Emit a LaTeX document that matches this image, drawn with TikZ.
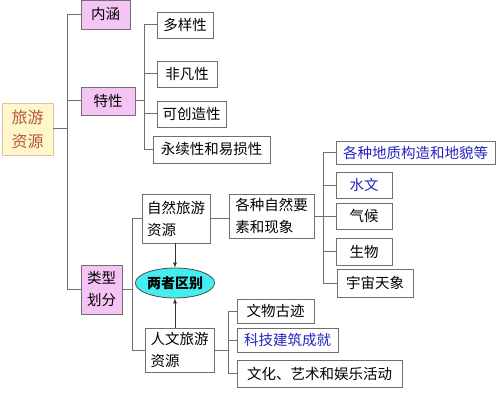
\documentclass[tikz,border=0pt]{standalone}
\usepackage{fontspec}
\setmainfont{Noto Sans CJK SC}
\usetikzlibrary{shapes.geometric,arrows.meta}
\definecolor{pinkfill}{HTML}{F4C4F4}
\definecolor{rootfill}{HTML}{FFF6CC}
\definecolor{roottext}{HTML}{B05A3C}
\definecolor{rootborder}{HTML}{D8C8A0}
\definecolor{bluetext}{HTML}{2424C0}
\definecolor{cyanfill}{HTML}{44EEF0}
\definecolor{linegray}{HTML}{707070}
\tikzset{
  bx/.style={draw=linegray, line width=0.9pt, inner sep=0pt, align=center,
    font=\fontsize{14.5}{22}\selectfont},
  two/.style={align=left},
  pk/.style={bx, fill=pinkfill},
  bl/.style={bx, text=bluetext},
  conn/.style={draw=linegray, line width=1pt},
  arr/.style={draw=black!80, line width=0.7pt, -{Latex[length=5pt,width=4pt]}},
}
\begin{document}
\begin{tikzpicture}[x=1pt,y=-1pt]
\useasboundingbox (0,0) rectangle (500,406);
% root
\node[bx, two, draw=rootborder, fill=rootfill, text=roottext, minimum width=51pt, minimum height=52pt,
  font=\fontsize{16}{24}\selectfont] (root) at (27.5,129) {旅游\\资源};
% level 1
\node[pk, minimum width=49pt, minimum height=29pt] (nh) at (105.5,14.5) {内涵};
\node[pk, minimum width=54pt, minimum height=28pt] (tx) at (108,101) {特性};
\node[pk, two, minimum width=41pt, minimum height=49pt] (lx) at (101.5,289.5) {类型\\划分};
% 特性 children
\node[bx, minimum width=56pt, minimum height=26pt] (d1) at (185,25) {多样性};
\node[bx, minimum width=60pt, minimum height=26pt] (d2) at (187,74) {非凡性};
\node[bx, minimum width=69pt, minimum height=26pt] (d3) at (191.5,114) {可创造性};
\node[bx, minimum width=117pt, minimum height=27pt] (d4) at (211.5,149.5) {永续性和易损性};
% 类型 children
\node[bx, two, minimum width=68pt, minimum height=49pt] (zr) at (176,218.5) {自然旅游\\资源};
\node[bx, two, minimum width=69pt, minimum height=44pt] (rw) at (179.5,350) {人文旅游\\资源};
\node[ellipse, draw=black!70, line width=0.8pt, fill=cyanfill, inner sep=0pt,
  minimum width=76pt, minimum height=30pt, font=\fontsize{14}{16}\selectfont\bfseries] (ell) at (175,283) {两者区别};
% natural
\node[bx, two, minimum width=85pt, minimum height=44pt] (ys) at (271.5,216) {各种自然要\\素和现象};
\node[bl, minimum width=159pt, minimum height=23pt] (n1) at (415.5,152.5) {各种地质构造和地貌等};
\node[bl, minimum width=56pt, minimum height=26pt] (n2) at (364,185) {水文};
\node[bx, minimum width=56pt, minimum height=26pt] (n3) at (364,216) {气候};
\node[bx, minimum width=56pt, minimum height=27pt] (n4) at (364,251.5) {生物};
\node[bx, minimum width=76pt, minimum height=28pt] (n5) at (375,283) {宇宙天象};
% human
\node[bx, minimum width=77pt, minimum height=24pt] (h1) at (275.5,311) {文物古迹};
\node[bl, minimum width=101pt, minimum height=24pt] (h2) at (287.5,340) {科技建筑成就};
\node[bx, minimum width=165pt, minimum height=27pt] (h3) at (319.5,373.5) {文化、艺术和娱乐活动};
% bus coordinates
\coordinate (b1) at (67,0);
\coordinate (b2) at (144,0);
\coordinate (b3) at (132,0);
\coordinate (b4) at (323,0);
\coordinate (b5) at (228,0);
% bus 1
\draw[conn] (nh.west -| b1) -- (lx.west -| b1);
\draw[conn] (root.east) -- (root.east -| b1);
\foreach \n in {nh,tx,lx} \draw[conn] (\n.west -| b1) -- (\n.west);
% bus 2
\draw[conn] (d1.west -| b2) -- (d4.west -| b2);
\draw[conn] (tx.east) -- (tx.east -| b2);
\foreach \n in {d1,d2,d3,d4} \draw[conn] (\n.west -| b2) -- (\n.west);
% bus 3
\draw[conn] (zr.west -| b3) -- (rw.west -| b3);
\draw[conn] (lx.east) -- (lx.east -| b3);
\foreach \n in {zr,rw} \draw[conn] (\n.west -| b3) -- (\n.west);
% natural link
\draw[conn] (zr.east) -- (zr.east -| ys.west);
% bus 4
\draw[conn] (n1.west -| b4) -- (n5.west -| b4);
\draw[conn] (ys.east) -- (ys.east -| b4);
\foreach \n in {n1,n2,n3,n4,n5} \draw[conn] (\n.west -| b4) -- (\n.west);
% bus 5
\draw[conn] (h1.west -| b5) -- (h3.west -| b5);
\draw[conn] (rw.east) -- (rw.east -| b5);
\foreach \n in {h1,h2,h3} \draw[conn] (\n.west -| b5) -- (\n.west);
% arrows
\draw[arr] (zr.south -| ell.north) -- (ell.north);
\draw[arr] (rw.north -| ell.south) -- (ell.south);
\end{tikzpicture}
\end{document}
